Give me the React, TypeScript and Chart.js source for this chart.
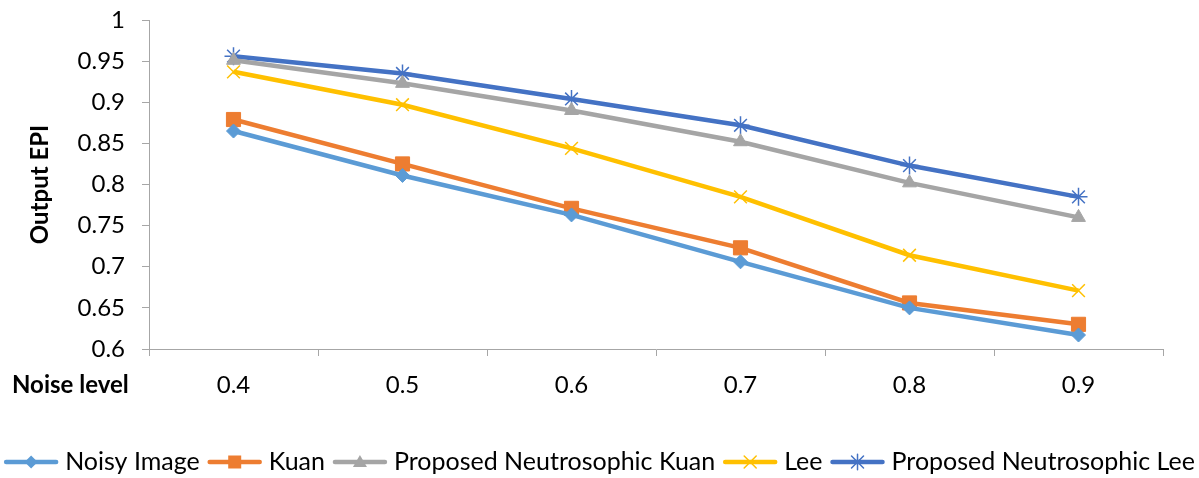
import React, { useEffect, useRef } from 'react';
import { Chart, registerables } from 'chart.js';

Chart.register(...registerables);

const categories = ['0.4', '0.5', '0.6', '0.7', '0.8', '0.9'];
const noisyImage = [0.865, 0.811, 0.763, 0.706, 0.65, 0.617];
const kuan = [0.879, 0.825, 0.771, 0.723, 0.656, 0.63];
const proposedKuan = [0.951, 0.923, 0.89, 0.852, 0.802, 0.76];
const lee = [0.937, 0.897, 0.844, 0.785, 0.714, 0.671];
const proposedLee = [0.956, 0.935, 0.904, 0.872, 0.823, 0.785];
const seriesNames = ['Noisy Image', 'Kuan', 'Proposed Neutrosophic Kuan', 'Lee', 'Proposed Neutrosophic Lee'];
const yMin = 0.6;
const yMax = 1;
const yStep = 0.05;
const xTitle = 'Noise level';
const yTitle = 'Output EPI';

const FONT = 'Lato';
const FS = 24;
const LEGEND_FS = 25;
const X_TICK_PAD = 15;

const COLORS = ['#5B9BD5', '#ED7D31', '#A5A5A5', '#FFC000', '#4472C4'];
const STYLES = ['rectRot', 'rect', 'triangle', 'crossRot', 'star'];
const RADII = [7, 10, 8, 9, 9];

function drawMarker(ctx: CanvasRenderingContext2D, kind: string, x: number, y: number, color: string) {
  ctx.save();
  ctx.fillStyle = color;
  ctx.strokeStyle = color;
  ctx.lineWidth = 1.5;
  ctx.beginPath();
  if (kind === 'rectRot') {
    const r = 6.5;
    ctx.moveTo(x - r, y);
    ctx.lineTo(x, y - r);
    ctx.lineTo(x + r, y);
    ctx.lineTo(x, y + r);
    ctx.closePath();
    ctx.fill();
  } else if (kind === 'rect') {
    ctx.rect(x - 6.5, y - 6.5, 13, 13);
    ctx.fill();
  } else if (kind === 'triangle') {
    ctx.moveTo(x, y - 7);
    ctx.lineTo(x + 7, y + 5);
    ctx.lineTo(x - 7, y + 5);
    ctx.closePath();
    ctx.fill();
  } else if (kind === 'crossRot') {
    const r = 6;
    ctx.moveTo(x - r, y - r);
    ctx.lineTo(x + r, y + r);
    ctx.moveTo(x + r, y - r);
    ctx.lineTo(x - r, y + r);
    ctx.stroke();
  } else {
    const r = 6;
    ctx.moveTo(x - r, y - r);
    ctx.lineTo(x + r, y + r);
    ctx.moveTo(x + r, y - r);
    ctx.lineTo(x - r, y + r);
    ctx.moveTo(x, y - r * 1.3);
    ctx.lineTo(x, y + r * 1.3);
    ctx.stroke();
  }
  ctx.restore();
}

const extrasPlugin = {
  id: 'extras',
  afterDraw(chart: any) {
    const ctx: CanvasRenderingContext2D = chart.ctx;
    ctx.save();
    // x-axis title at left of tick labels
    ctx.font = `bold ${FS}px ${FONT}`;
    ctx.fillStyle = '#000';
    ctx.textAlign = 'left';
    ctx.textBaseline = 'middle';
    const xs = chart.scales.x;
    ctx.fillText(xTitle, 12, xs.top + 7 + X_TICK_PAD + FS * 0.6);

    // legend
    ctx.font = `${LEGEND_FS}px ${FONT}`;
    const lineW = 54;
    const gapText = 7;
    const gapItem = 8;
    const items = chart.data.datasets.map((ds: any, i: number) => ({
      text: ds.label as string,
      w: ctx.measureText(ds.label).width,
      i,
    }));
    let total = 0;
    items.forEach((it: any, k: number) => {
      total += lineW + gapText + it.w + (k < items.length - 1 ? gapItem : 0);
    });
    let x = chart.width / 2 - total / 2;
    const y = 462;
    items.forEach((it: any) => {
      const c = COLORS[it.i];
      ctx.strokeStyle = c;
      ctx.lineWidth = 4.5;
      ctx.lineCap = 'round';
      ctx.beginPath();
      ctx.moveTo(x + 2, y);
      ctx.lineTo(x + lineW - 2, y);
      ctx.stroke();
      drawMarker(ctx, STYLES[it.i], x + lineW / 2, y, c);
      ctx.fillStyle = '#000';
      ctx.textAlign = 'left';
      ctx.textBaseline = 'middle';
      ctx.fillText(it.text, x + lineW + gapText, y);
      x += lineW + gapText + it.w + gapItem;
    });
    ctx.restore();
  },
};

export default function App() {
  const ref = useRef<HTMLCanvasElement>(null);
  useEffect(() => {
    document.body.style.margin = '0';
    const seriesData = [noisyImage, kuan, proposedKuan, lee, proposedLee];
    const chart = new Chart(ref.current!, {
      type: 'line',
      data: {
        labels: categories,
        datasets: seriesData.map((d, i) => ({
          label: seriesNames[i],
          data: d,
          borderColor: COLORS[i],
          backgroundColor: COLORS[i],
          borderWidth: 4.5,
          pointStyle: STYLES[i] as any,
          pointRadius: RADII[i],
          pointBackgroundColor: COLORS[i],
          pointBorderColor: COLORS[i],
          pointBorderWidth: i >= 3 ? 1.5 : 1,
          tension: 0,
          fill: false,
        })),
      },
      options: {
        animation: false,
        responsive: true,
        maintainAspectRatio: false,
        layout: { padding: { top: 20, right: 36, left: 0, bottom: 0 } },
        plugins: {
          tooltip: { enabled: false },
          legend: { display: false },
        },
        scales: {
          x: {
            type: 'category',
            offset: true,
            grid: { offset: true, drawOnChartArea: false, tickLength: 7, color: '#A6A6A6' },
            border: { color: '#A6A6A6', width: 1 },
            ticks: { color: '#000', padding: X_TICK_PAD, font: { family: FONT, size: FS } },
            afterFit: (s: any) => {
              s.height = 129;
              s.paddingLeft = 0;
              s.paddingRight = 0;
            },
          },
          y: {
            min: yMin,
            max: yMax,
            grid: { drawOnChartArea: false, tickLength: 7, color: '#A6A6A6' },
            border: { color: '#A6A6A6', width: 1 },
            ticks: {
              stepSize: yStep,
              color: '#000',
              padding: 17,
              font: { family: FONT, size: FS },
              callback: (v: any) => String(Number(Number(v).toFixed(2))),
            },
            title: {
              display: true,
              text: yTitle,
              color: '#000',
              font: { family: FONT, size: FS, weight: 'bold' },
              padding: { top: 26, bottom: 0 },
            },
            afterFit: (s: any) => {
              s.width = 149;
              s.paddingTop = 0;
              s.paddingBottom = 0;
            },
          },
        },
      },
      plugins: [extrasPlugin],
    });
    return () => chart.destroy();
  }, []);
  return (
    <div style={{ width: 1199, height: 478, position: 'relative' }}>
      <canvas ref={ref} />
    </div>
  );
}
